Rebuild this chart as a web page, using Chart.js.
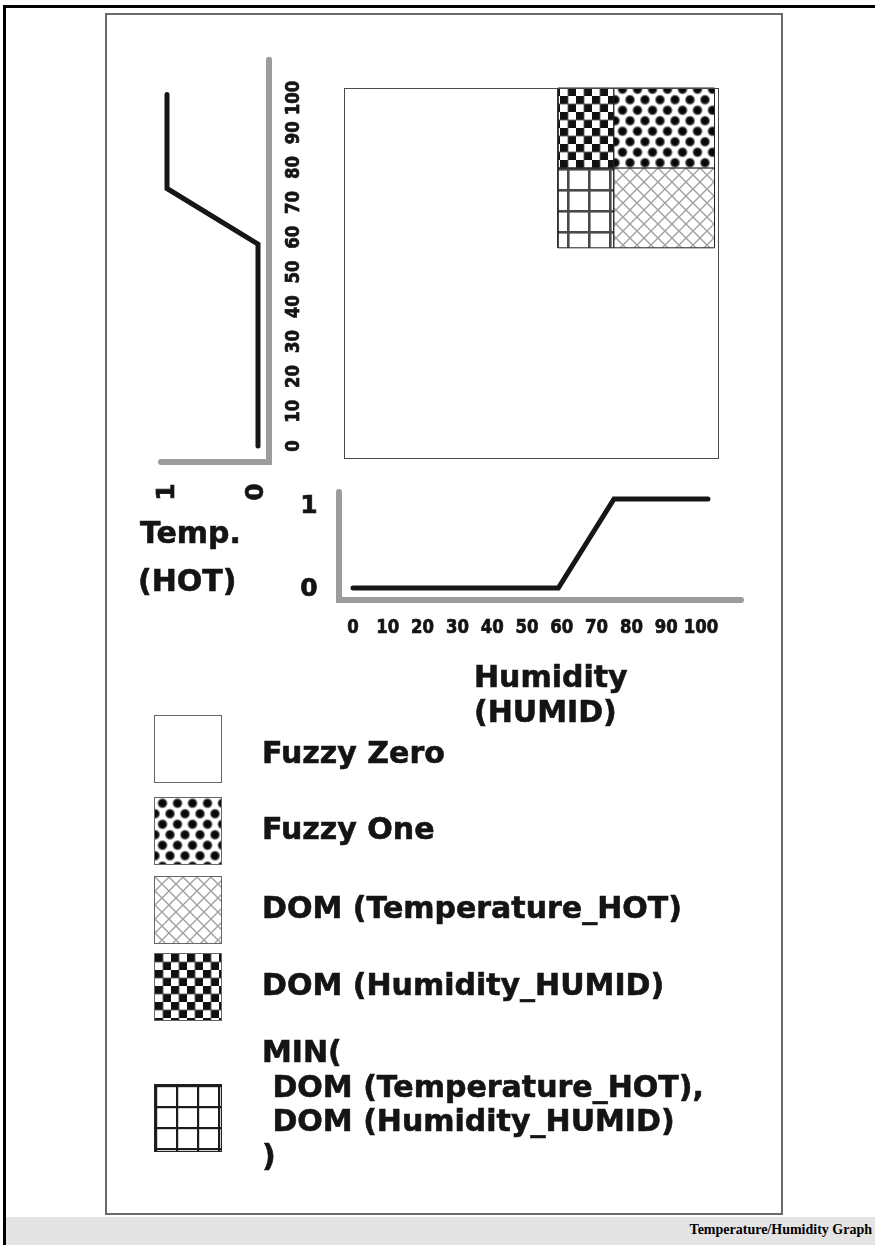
<!DOCTYPE html>
<html>
<head>
<meta charset="utf-8">
<script src="https://cdn.jsdelivr.net/npm/chart.js@4.4.1/dist/chart.umd.min.js"></script>
<style>
  html, body { margin: 0; padding: 0; background: #fff; }
  #page { position: relative; width: 875px; height: 1245px; overflow: hidden; background: #fff;
          font-family: "DejaVu Sans", sans-serif; font-weight: bold; color: #141414; }
  .abs { position: absolute; }
  #outer { left: 3px; top: 5px; width: 900px; height: 1300px; border-left: 3px solid #000; border-top: 3px solid #000; }
  #inner { left: 105px; top: 13px; width: 674px; height: 1198px; border: 2px solid #6a6a6a; }
  #band { left: 6px; top: 1217px; width: 869px; height: 28px; background: #e4e4e4; }
  #caption { right: 3px; top: 1222px; font-family: "Liberation Serif", serif; font-weight: bold; font-size: 14px; line-height: 16px; color: #000; }
  canvas.layer { position: absolute; left: 0; top: 0; }
  .lbl { position: absolute; font-size: 30px; line-height: 30px; white-space: pre; -webkit-text-stroke: 0.6px #141414; }
  .sw { position: absolute; left: 154px; width: 68px; height: 68px; box-sizing: border-box; border: 1px solid #666; }
</style>
</head>
<body>
<div id="page">
  <div id="outer" class="abs"></div>
  <div id="inner" class="abs"></div>
  <div id="band" class="abs"></div>
  <div id="caption" class="abs">Temperature/Humidity Graph</div>

  <canvas id="cTemp" class="layer" width="875" height="1245"></canvas>
  <canvas id="cSquare" class="layer" width="875" height="1245"></canvas>
  <canvas id="cHum" class="layer" width="875" height="1245"></canvas>

  <div class="lbl" style="left:140px; top:518px;">Temp.</div>
  <div class="lbl" style="left:138px; top:566px;">(HOT)</div>
  <div class="lbl" style="left:474px; top:662px;">Humidity</div>
  <div class="lbl" style="left:474px; top:697px;">(HUMID)</div>

  <canvas class="sw" id="sw0" width="66" height="66" style="top:715px;"></canvas>
  <canvas class="sw" id="sw1" width="66" height="66" style="top:797px;"></canvas>
  <canvas class="sw" id="sw2" width="66" height="66" style="top:876px;"></canvas>
  <canvas class="sw" id="sw3" width="66" height="66" style="top:953px;"></canvas>
  <canvas class="sw" id="sw4" width="66" height="66" style="top:1084px; border-color:#222;"></canvas>

  <div class="lbl" style="left:262px; top:738px;">Fuzzy Zero</div>
  <div class="lbl" style="left:262px; top:814px;">Fuzzy One</div>
  <div class="lbl" style="left:262px; top:893px;">DOM (Temperature_HOT)</div>
  <div class="lbl" style="left:262px; top:970px;">DOM (Humidity_HUMID)</div>
  <div class="lbl" style="left:262px; top:1035px; line-height:34.5px;">MIN(
 DOM (Temperature_HOT),
 DOM (Humidity_HUMID)
)</div>
</div>

<script>
// ---------------- data ----------------
const tempTicks = [0, 10, 20, 30, 40, 50, 60, 70, 80, 90, 100];
const humTicks  = [0, 10, 20, 30, 40, 50, 60, 70, 80, 90, 100];
const membershipTicks = [0, 1];

// Temperature HOT membership function (temperature -> degree of membership)
const tempValues     = [0, 58, 74, 101];
const tempMembership = [0, 0, 1, 1];

// Humidity HUMID membership function
const humValues     = [0, 59, 75, 102];
const humMembership = [0, 0, 1, 1];

// Regions of the combined temperature/humidity square
const regionKinds    = ['checker', 'dots', 'grid', 'cross'];
const regionHumFrom  = [59, 75, 59, 75];
const regionHumTo    = [75, 104, 75, 104];
const regionTempFrom = [80, 80, 57, 57];
const regionTempTo   = [103, 103, 80, 80];

// Legend
const legendKinds = ['zero', 'dots', 'cross', 'checker', 'gridLegend'];

// ---------------- patterns ----------------
function makeTile(kind) {
  const c = document.createElement('canvas');
  let g;
  if (kind === 'dots') {
    c.width = 15; c.height = 21; g = c.getContext('2d');
    g.fillStyle = '#fff'; g.fillRect(0, 0, 15, 21);
    [[7.5, 5.25], [0, 15.75], [15, 15.75], [7.5, 26.25], [7.5, -5.25], [0, -5.25], [15, -5.25]].forEach(([x, y]) => {
      const rg = g.createRadialGradient(x, y, 0, x, y, 5.6);
      rg.addColorStop(0, '#000'); rg.addColorStop(0.6, '#111'); rg.addColorStop(1, 'rgba(0,0,0,0)');
      g.fillStyle = rg; g.beginPath(); g.arc(x, y, 5.6, 0, Math.PI * 2); g.fill();
    });
  } else if (kind === 'checker') {
    c.width = 16; c.height = 16; g = c.getContext('2d');
    g.fillStyle = '#fff'; g.fillRect(0, 0, 16, 16);
    g.fillStyle = '#111'; g.fillRect(0, 0, 8, 8); g.fillRect(8, 8, 8, 8);
    g.fillStyle = 'rgba(90,90,90,0.45)';
    g.fillRect(7, 0, 2, 16); g.fillRect(0, 7, 16, 2);
  } else if (kind === 'grid' || kind === 'gridLegend') {
    c.width = 21; c.height = 21; g = c.getContext('2d');
    g.fillStyle = '#fff'; g.fillRect(0, 0, 21, 21);
    g.fillStyle = kind === 'grid' ? '#4a4a4a' : '#1c1c1c';
    const w = kind === 'grid' ? 2.6 : 2.2;
    g.fillRect(0, 0, w, 21); g.fillRect(0, 0, 21, w);
  } else if (kind === 'cross') {
    c.width = 14; c.height = 14; g = c.getContext('2d');
    g.fillStyle = '#fff'; g.fillRect(0, 0, 14, 14);
    g.strokeStyle = '#a0a0a0'; g.lineWidth = 1.4;
    g.beginPath(); g.moveTo(0, 0); g.lineTo(14, 14); g.moveTo(14, 0); g.lineTo(0, 14); g.stroke();
  } else {
    c.width = 4; c.height = 4; g = c.getContext('2d');
    g.fillStyle = '#fff'; g.fillRect(0, 0, 4, 4);
  }
  return c;
}
function makePattern(ctx, kind) { return ctx.createPattern(makeTile(kind), 'repeat'); }

// legend swatches
legendKinds.forEach((k, i) => {
  const cv = document.getElementById('sw' + i);
  const g = cv.getContext('2d');
  g.fillStyle = makePattern(g, k);
  g.fillRect(0, 0, cv.width, cv.height);
});

const FONT_TICK = 'bold 19px "DejaVu Sans"';
const FONT_MEM = 'bold 25px "DejaVu Sans"';
// heavy, slightly condensed text drawn at the current origin
function heavyText(ctx, s, condense) {
  ctx.save();
  if (condense) ctx.scale(condense, 1);
  ctx.fillText(s, 0, 0);
  ctx.lineWidth = 0.7; ctx.strokeStyle = '#141414'; ctx.strokeText(s, 0, 0);
  ctx.restore();
}
const common = { responsive: false, animation: false, events: [],
  plugins: { legend: { display: false }, tooltip: { enabled: false } } };

// ---------------- temperature (rotated) chart ----------------
const tempDecor = {
  id: 'tempDecor',
  beforeDatasetsDraw(chart) {
    const { ctx, scales: { x, y } } = chart;
    ctx.save();
    ctx.strokeStyle = '#9c9c9c'; ctx.lineWidth = 6; ctx.lineCap = 'round'; ctx.lineJoin = 'miter';
    const ax = x.getPixelForValue(0) + 11;
    const ay = y.getPixelForValue(0) + 16;
    ctx.beginPath();
    ctx.moveTo(ax, y.getPixelForValue(111));
    ctx.lineTo(ax, ay);
    ctx.lineTo(x.getPixelForValue(1) - 6, ay);
    ctx.stroke();
    ctx.fillStyle = '#141414'; ctx.textAlign = 'center'; ctx.textBaseline = 'middle';
    ctx.font = FONT_TICK;
    tempTicks.forEach(v => {
      ctx.save(); ctx.translate(ax + 25, y.getPixelForValue(v)); ctx.rotate(-Math.PI / 2);
      heavyText(ctx, String(v), 0.87); ctx.restore();
    });
    ctx.font = FONT_MEM;
    membershipTicks.forEach(v => {
      ctx.save(); ctx.translate(x.getPixelForValue(v) - (v === 0 ? 2 : 0), ay + 30); ctx.rotate(-Math.PI / 2);
      heavyText(ctx, String(v)); ctx.restore();
    });
    ctx.restore();
  }
};
new Chart(document.getElementById('cTemp'), {
  type: 'scatter',
  data: { datasets: [{
    data: tempValues.map((t, i) => ({ x: tempMembership[i], y: t })),
    showLine: true, borderColor: '#161616', borderWidth: 5, pointRadius: 0,
    borderCapStyle: 'round', borderJoinStyle: 'miter', clip: false, tension: 0
  }] },
  options: Object.assign({}, common, {
    layout: { padding: { left: 167, right: 617, top: 98, bottom: 799 } },
    scales: {
      x: { type: 'linear', display: false, min: 0, max: 1, reverse: true },
      y: { type: 'linear', display: false, min: 0, max: 100 }
    }
  }),
  plugins: [tempDecor]
});

// ---------------- square (temperature x humidity) ----------------
const squareFrame = {
  id: 'squareFrame',
  afterDatasetsDraw(chart) {
    const { ctx, chartArea: a } = chart;
    ctx.save(); ctx.strokeStyle = '#4a4a4a'; ctx.lineWidth = 1;
    ctx.strokeRect(Math.round(a.left) + 0.5, Math.round(a.top) + 0.5,
                   Math.round(a.right - a.left), Math.round(a.bottom - a.top));
    ctx.restore();
  }
};
const sqCanvas = document.getElementById('cSquare');
const sqCtx = sqCanvas.getContext('2d');
new Chart(sqCanvas, {
  type: 'scatter',
  data: { datasets: regionKinds.map((k, i) => ({
    data: [
      { x: regionHumFrom[i], y: regionTempFrom[i] },
      { x: regionHumTo[i],   y: regionTempFrom[i] },
      { x: regionHumTo[i],   y: regionTempTo[i] },
      { x: regionHumFrom[i], y: regionTempTo[i] },
      { x: regionHumFrom[i], y: regionTempFrom[i] }
    ],
    showLine: true, fill: 'shape', backgroundColor: makePattern(sqCtx, k),
    borderColor: '#222', borderWidth: 1, pointRadius: 0, clip: false, tension: 0
  })) },
  options: Object.assign({}, common, {
    layout: { padding: { left: 344, right: 157, top: 88, bottom: 787 } },
    scales: {
      x: { type: 'linear', display: false, min: -2.5, max: 105 },
      y: { type: 'linear', display: false, min: -3.5, max: 103 }
    }
  }),
  plugins: [squareFrame]
});

// ---------------- humidity chart ----------------
const humDecor = {
  id: 'humDecor',
  beforeDatasetsDraw(chart) {
    const { ctx, scales: { x, y } } = chart;
    ctx.save();
    ctx.strokeStyle = '#9c9c9c'; ctx.lineWidth = 6; ctx.lineCap = 'round'; ctx.lineJoin = 'miter';
    const ax = x.getPixelForValue(0) - 14;
    const ay = y.getPixelForValue(0) + 12;
    ctx.beginPath();
    ctx.moveTo(ax, y.getPixelForValue(1) - 7);
    ctx.lineTo(ax, ay);
    ctx.lineTo(x.getPixelForValue(111.5), ay);
    ctx.stroke();
    ctx.fillStyle = '#141414'; ctx.textAlign = 'center'; ctx.textBaseline = 'middle';
    ctx.font = FONT_TICK;
    humTicks.forEach(v => {
      ctx.save(); ctx.translate(x.getPixelForValue(v), ay + 28);
      heavyText(ctx, String(v), 0.87); ctx.restore();
    });
    ctx.font = FONT_MEM;
    membershipTicks.forEach(v => {
      ctx.save(); ctx.translate(ax - 30, y.getPixelForValue(v) + (v === 1 ? 7 : 1));
      heavyText(ctx, String(v)); ctx.restore();
    });
    ctx.restore();
  }
};
new Chart(document.getElementById('cHum'), {
  type: 'scatter',
  data: { datasets: [{
    data: humValues.map((h, i) => ({ x: h, y: humMembership[i] })),
    showLine: true, borderColor: '#161616', borderWidth: 5, pointRadius: 0,
    borderCapStyle: 'round', borderJoinStyle: 'miter', clip: false, tension: 0
  }] },
  options: Object.assign({}, common, {
    layout: { padding: { left: 353, right: 174, top: 499, bottom: 657 } },
    scales: {
      x: { type: 'linear', display: false, min: 0, max: 100 },
      y: { type: 'linear', display: false, min: 0, max: 1 }
    }
  }),
  plugins: [humDecor]
});
</script>
</body>
</html>
